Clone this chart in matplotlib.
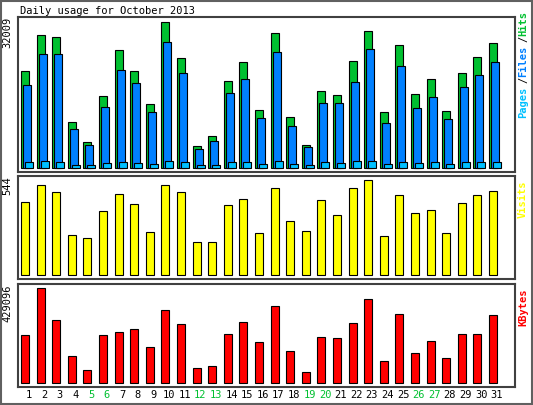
import matplotlib
matplotlib.use("Agg")
import matplotlib.pyplot as plt
from matplotlib.patches import Rectangle

days = list(range(1, 32))
weekends = [5, 6, 12, 13, 19, 20, 26, 27]
hits = [21192, 29212, 28697, 9934, 5592, 15673, 25827, 21192, 13907, 32009, 24062,
        4709, 6917, 19058, 23252, 12656, 29580, 11037, 4930, 16850, 15967, 23399,
        30022, 12141, 26931, 16115, 19426, 12362, 20750, 24282, 27373]
files = [18102, 24945, 24945, 8389, 4857, 13245, 21413, 18543, 12141, 27594, 20750,
         3974, 5740, 16336, 19426, 10817, 25386, 9051, 4415, 14128, 14128, 18764,
         26049, 9713, 22296, 13024, 15453, 10596, 17660, 20309, 23179]
pages = [1104, 1325, 1104, 441, 441, 883, 1104, 883, 662, 1325, 1104,
         441, 441, 1104, 1104, 662, 1325, 662, 441, 1104, 883, 1325,
         1325, 662, 1104, 883, 1104, 662, 1104, 1104, 1104]
visits = [418, 515, 475, 228, 211, 366, 464, 406, 245, 515, 475,
          188, 188, 400, 435, 239, 498, 308, 251, 429, 343, 498,
          544, 222, 458, 354, 372, 239, 412, 458, 481]
kbytes = [216059, 429096, 284048, 120872, 57414, 216059, 229657, 243254, 161666,
          329375, 265918, 66480, 75545, 220591, 274983, 184329, 347506, 143535,
          48348, 206991, 202458, 270450, 379234, 98208, 311245, 134470, 188861,
          111806, 220591, 220591, 306713]

W, H = 533, 405
fig = plt.figure(figsize=(W / 100, H / 100), dpi=100)
fig.patch.set_facecolor("white")
fig.patches.append(Rectangle((0.002, 0.002), 0.996, 0.995, transform=fig.transFigure,
                             fill=False, edgecolor="#606060", lw=1.5))
mono = "DejaVu Sans Mono"
fs = 7.5

def make_ax(top, bottom, base, peak, vmax):
    ax = fig.add_axes([18 / W, 1 - bottom / H, (515 - 18) / W, (bottom - top) / H])
    scale = vmax / (base - peak)
    ax.set_ylim(-(bottom - base) * scale, (base - top) * scale)
    ax.set_xlim((18 - 28.7) / 15.6 + 1, (515 - 28.7) / 15.6 + 1)
    ax.set_xticks([])
    ax.set_yticks([])
    for s in ax.spines.values():
        s.set_color("#404040")
        s.set_linewidth(1.5)
    return ax

bw = 8 / 15.6
ax1 = make_ax(17, 172, 167.5, 22.3, max(hits))
ax1.bar([d - 0.24 for d in days], hits, width=bw, color="#00c030", edgecolor="black", lw=0.8)
ax1.bar([d - 0.11 for d in days], files, width=bw, color="#0080ff", edgecolor="black", lw=0.8)
ax1.bar([d + 0.02 for d in days], pages, width=bw, color="#00c0ff", edgecolor="black", lw=0.8)

ax2 = make_ax(176, 279, 275, 180.3, max(visits))
ax2.bar([d - 0.24 for d in days], visits, width=bw, color="#ffff00", edgecolor="black", lw=0.8)

ax3 = make_ax(284, 387, 383, 288, max(kbytes))
ax3.bar([d - 0.24 for d in days], kbytes, width=bw, color="#ff0000", edgecolor="black", lw=0.8)

fig.text(20 / W, 1 - 11 / H, "Daily usage for October 2013", family=mono, fontsize=fs,
         va="center", ha="left")
for ax, lbl in [(ax1, max(hits)), (ax2, max(visits)), (ax3, max(kbytes))]:
    ax.text(-0.012, 1, str(lbl), transform=ax.transAxes, rotation=90, ha="right", va="top",
            family=mono, fontsize=fs)

# right-side legends, reading bottom to top
x_r = 523 / W
fig.text(x_r, 1 - 118 / H, "Pages", rotation=90, color="#00c0ff", family=mono, fontsize=fs,
         ha="center", va="bottom", fontweight="bold")
fig.text(x_r, 1 - 83 / H, "/", rotation=90, color="#000000", family=mono, fontsize=fs,
         ha="center", va="bottom")
fig.text(x_r, 1 - 77 / H, "Files", rotation=90, color="#0080ff", family=mono, fontsize=fs,
         ha="center", va="bottom", fontweight="bold")
fig.text(x_r, 1 - 42 / H, "/", rotation=90, color="#000000", family=mono, fontsize=fs,
         ha="center", va="bottom")
fig.text(x_r, 1 - 36 / H, "Hits", rotation=90, color="#00c030", family=mono, fontsize=fs,
         ha="center", va="bottom", fontweight="bold")
fig.text(x_r, 1 - 180 / H, "Visits", rotation=90, color="#ffff00", family=mono, fontsize=fs,
         ha="center", va="top", fontweight="bold")
fig.text(x_r, 1 - 288 / H, "KBytes", rotation=90, color="#ff0000", family=mono, fontsize=fs,
         ha="center", va="top", fontweight="bold")

for d in days:
    ax3.text(d, -0.03, str(d), transform=ax3.get_xaxis_transform(), ha="center", va="top",
             family=mono, fontsize=fs, color="#00c030" if d in weekends else "black")

fig.savefig("out.png", dpi=100, facecolor="white")
